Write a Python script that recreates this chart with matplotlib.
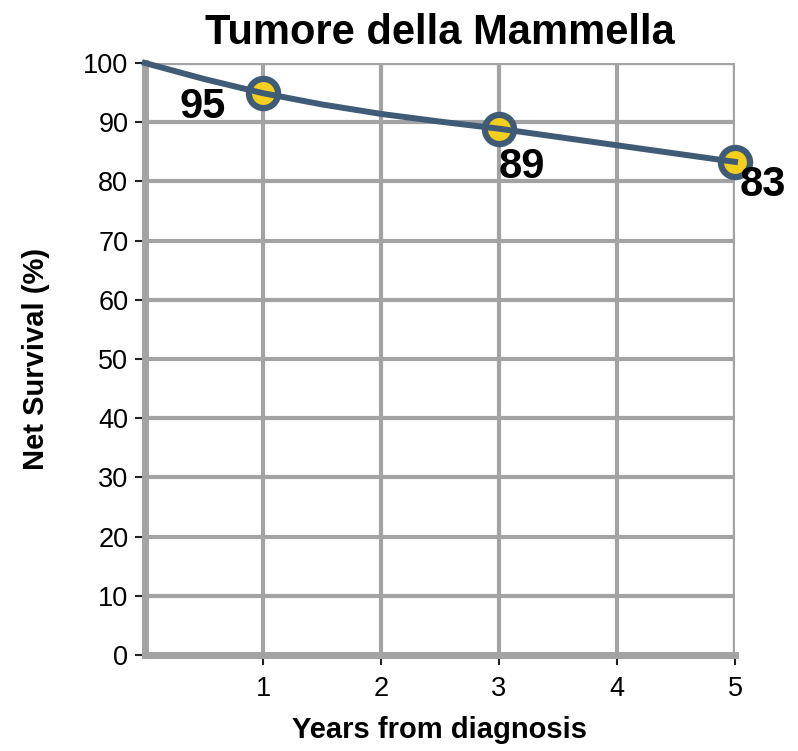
import matplotlib.pyplot as plt
import numpy as np

plt.rcParams['font.family'] = ['Liberation Sans', 'DejaVu Sans']

# curva
anni = [0, 0.5, 1, 1.5, 2, 2.5, 3, 3.5, 4, 4.5, 5]
sopravv = [100, 97.3, 94.9, 93.0, 91.4, 90.1, 88.9, 87.5, 86.1, 84.7, 83.3]

# punti evidenziati
anni_pt = [1, 3, 5]
sopravv_pt = [94.9, 88.9, 83.3]
etichette = ['95', '89', '83']
offset = [(-60, -14), (23, -38), (28, -23)]

linea = '#3f5b76'
giallo = '#f4cf1c'
grigio = '#a3a3a3'

fig = plt.figure(figsize=(7.98, 7.51), dpi=100)
ax = fig.add_axes([145/798, 96/751, 590/798, 592/751])

ax.plot(anni_pt, sopravv_pt, 'o', ms=21, mfc=giallo, mec=linea, mew=4.5,
        zorder=3, clip_on=False)
ax.plot(anni, sopravv, color=linea, lw=4.3, zorder=5, clip_on=False)

for x, y, t, off in zip(anni_pt, sopravv_pt, etichette, offset):
    ax.annotate(t, (x, y), xytext=off, textcoords='offset pixels',
                ha='center', va='center', fontsize=30, fontweight='bold',
                zorder=6, annotation_clip=False)

ax.set_xlim(0, 5)
ax.set_ylim(0, 100)
ax.set_xticks([1, 2, 3, 4, 5])
ax.set_yticks(np.arange(0, 101, 10))
ax.tick_params(length=7, width=1.5, color='#222222', labelsize=19.5, pad=5)
ax.tick_params(axis='x', pad=8)

ax.grid(True, color=grigio, lw=3)
ax.axvline(5, color=grigio, lw=3, zorder=0.5)
ax.axhline(100, color=grigio, lw=3, zorder=0.5)
ax.set_axisbelow(True)

for s in ['top', 'right']:
    ax.spines[s].set_visible(False)
for s in ['left', 'bottom']:
    ax.spines[s].set_color(grigio)
    ax.spines[s].set_linewidth(5)

ax.set_title('Tumore della Mammella', fontsize=30, fontweight='bold', pad=14)
ax.set_xlabel('Years from diagnosis', fontsize=21, fontweight='bold', labelpad=10)
ax.set_ylabel('Net Survival (%)', fontsize=21, fontweight='bold', labelpad=24)

fig.savefig('out.png', dpi=100)
